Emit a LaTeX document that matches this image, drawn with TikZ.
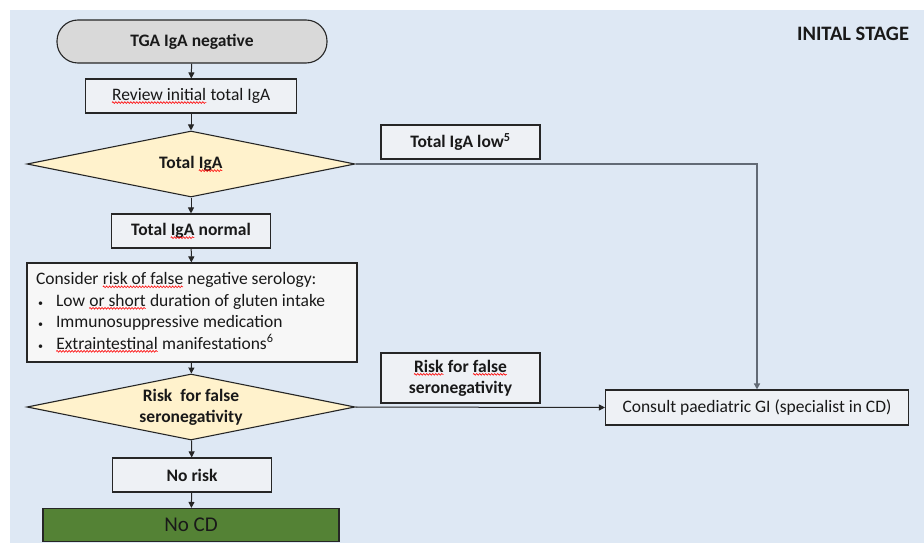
\documentclass[tikz,border=0pt]{standalone}
\usepackage{fontspec}
\setmainfont{Carlito}
\usetikzlibrary{shapes.geometric,arrows.meta,decorations.pathmorphing}

\definecolor{bgblue}{HTML}{DEE8F4}
\definecolor{boxgray}{HTML}{EEF1F5}
\definecolor{startgray}{HTML}{D9D9D9}
\definecolor{notewhite}{HTML}{F7F7F7}
\definecolor{decyellow}{HTML}{FFF2CC}
\definecolor{cdgreen}{HTML}{548235}
\definecolor{linegray}{HTML}{626A75}

\newcommand{\spellerr}[1]{\tikz[baseline=(w.base)]{\node[shape=rectangle,draw=none,fill=none,inner sep=0pt,outer sep=0pt,minimum size=0pt,rounded corners=0pt] (w) {#1};
    \draw[red,line width=0.6pt,decorate,decoration={zigzag,amplitude=0.9pt,segment length=3pt}] ([yshift=-2.2pt]w.base west) -- ([yshift=-2.2pt]w.base east);}}
\newcommand{\bulletitem}{\makebox[20pt][l]{\hspace{2pt}\fontsize{10}{10}\selectfont\textbullet}}

\begin{document}
\begin{tikzpicture}[x=1pt,y=-1pt,
    txt/.style={font=\fontsize{17.5}{21}\selectfont,text=black!90},
    box/.style={txt,draw=black!85,line width=1.1pt,fill=boxgray,minimum height=34pt,inner sep=2pt},
    boldbox/.style={box,font=\fontsize{17.5}{21}\selectfont\bfseries},
    decision/.style={txt,font=\fontsize{17.5}{21}\selectfont\bfseries,diamond,draw=black!85,line width=1.1pt,fill=decyellow,
        minimum width=328pt,minimum height=66pt,shape aspect=5,inner sep=0pt,align=center},
    flow/.style={-{Triangle[length=6pt,width=6pt]},line width=1pt,black!85}]

    \useasboundingbox (0,0) rectangle (924,543);
    \fill[white] (0,0) rectangle (924,543);
    \fill[bgblue] (10,10) rectangle (924,543);

    \node[boldbox,fill=startgray,rounded corners=21pt,minimum width=270pt,minimum height=43pt] (start) at (192,41.5) {TGA IgA negative};
    \node[box,minimum width=211pt] (review) at (191,96) {\spellerr{Review initial} total IgA};
    \node[decision] (igatotal) at (191,164) {Total \spellerr{IgA}};
    \node[boldbox,minimum width=159pt] (igalow) at (460.5,142) {Total IgA low\textsuperscript{5}};
    \node[boldbox,minimum width=159pt] (iganormal) at (191,231) {Total \spellerr{IgA} normal};
    \node[box,fill=notewhite,minimum height=99pt,text width=312pt,align=flush left,inner xsep=9pt,inner ysep=4pt,
        font=\fontsize{17.5}{21.5}\selectfont] (consider) at (192,312.5) {%
        Consider \spellerr{risk of false} negative serology:\\
        \bulletitem Low \spellerr{or short} duration of gluten intake\\
        \bulletitem Immunosuppressive medication\\
        \bulletitem \spellerr{Extraintestinal} manifestations\textsuperscript{6}};
    \node[decision] (falseneg) at (191,407) {Risk\ \ for false\\seronegativity};
    \node[boldbox,minimum width=159pt,minimum height=50pt,align=center] (risklabel) at (460.5,378) {\spellerr{Risk} for \spellerr{false}\\seronegativity};
    \node[box,minimum width=303pt,minimum height=35pt] (consult) at (757,407.5) {Consult paediatric GI (specialist in CD)};
    \node[boldbox,minimum width=159pt] (norisk) at (192,475) {No risk};
    \node[box,fill=cdgreen,minimum width=296pt,minimum height=33pt,font=\fontsize{21}{24}\selectfont] (nocd) at (191,525) {No CD};

    \node[txt,font=\fontsize{20.5}{24}\selectfont\bfseries] (stage) at (853,34) {INITAL STAGE};

    \draw[flow] (start) -- (review);
    \draw[flow] (review) -- (igatotal);
    \draw[flow] (igatotal) -- (iganormal);
    \draw[flow] (iganormal) -- (consider);
    \draw[flow] (consider) -- (falseneg);
    \draw[flow] (falseneg) -- (norisk);
    \draw[flow] (norisk) -- (nocd);
    \draw[flow,linegray,line width=1.5pt] (igatotal.east) -| (consult.north);
    \draw[flow] (falseneg.east) -- (consult.west);

\end{tikzpicture}
\end{document}
